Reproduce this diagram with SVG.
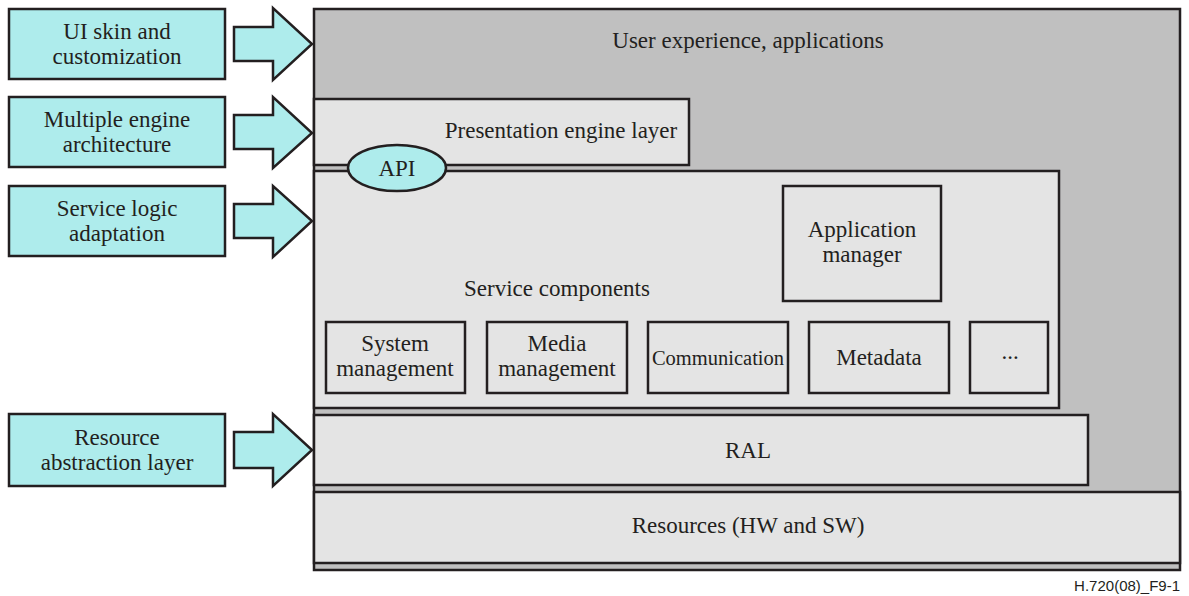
<svg xmlns="http://www.w3.org/2000/svg" width="1189" height="596" viewBox="0 0 1189 596">
<style>
.t{font-family:"Liberation Serif","Times New Roman",serif;font-size:23px;fill:#231f20;text-anchor:middle}
.side{fill:#aeecec;stroke:#231f20;stroke-width:2.5}
.layer{fill:#e4e4e4;stroke:#231f20;stroke-width:2.5}
.box{fill:#e4e4e4;stroke:#231f20;stroke-width:2.5}
.arrow{fill:#aeecec;stroke:#231f20;stroke-width:2.5;stroke-linejoin:miter}
</style>
<rect width="1189" height="596" fill="#ffffff"/>
<g id="platform">
<rect x="314" y="9" width="866" height="561" fill="#c0c0c0" stroke="#231f20" stroke-width="2.5"/>
<text class="t" x="748" y="48">User experience, applications</text>
</g>
<g id="presentation">
<rect class="layer" x="314" y="99" width="375" height="66"/>
<text class="t" x="561" y="138">Presentation engine layer</text>
</g>
<g id="service-components">
<rect class="layer" x="314" y="171" width="745" height="237"/>
<text class="t" x="557" y="296">Service components</text>
</g>
<g id="api">
<ellipse cx="397" cy="168" rx="49" ry="23" fill="#aeecec" stroke="#231f20" stroke-width="2.5"/>
<text class="t" x="397" y="176">API</text>
</g>
<g id="app-manager">
<rect class="box" x="783" y="186" width="158" height="115"/>
<text class="t" x="862" y="237">Application</text>
<text class="t" x="862" y="262">manager</text>
</g>
<g id="system-management">
<rect class="box" x="326" y="322" width="139" height="71"/>
<text class="t" x="395" y="351">System</text>
<text class="t" x="395" y="376">management</text>
</g>
<g id="media-management">
<rect class="box" x="487" y="322" width="140" height="71"/>
<text class="t" x="557" y="351">Media</text>
<text class="t" x="557" y="376">management</text>
</g>
<g id="communication">
<rect class="box" x="648" y="322" width="140" height="71"/>
<text class="t" x="718" y="365" style="font-size:20.5px">Communication</text>
</g>
<g id="metadata">
<rect class="box" x="809" y="322" width="140" height="71"/>
<text class="t" x="879" y="365">Metadata</text>
</g>
<g id="more">
<rect class="box" x="970" y="322" width="78" height="71"/>
<text class="t" x="1010" y="359">...</text>
</g>
<g id="ral">
<rect class="layer" x="314" y="415" width="774" height="70"/>
<text class="t" x="748" y="458">RAL</text>
</g>
<g id="resources">
<rect class="layer" x="314" y="492" width="866" height="71"/>
<text class="t" x="748" y="533">Resources (HW and SW)</text>
</g>
<g id="ui-skin">
<rect class="side" x="9" y="9" width="216" height="70"/>
<text class="t" x="117" y="39">UI skin and</text>
<text class="t" x="117" y="64">customization</text>
</g>
<g id="multiple-engine">
<rect class="side" x="9" y="97" width="216" height="70"/>
<text class="t" x="117" y="127">Multiple engine</text>
<text class="t" x="117" y="152">architecture</text>
</g>
<g id="service-logic">
<rect class="side" x="9" y="186" width="216" height="70"/>
<text class="t" x="117" y="216">Service logic</text>
<text class="t" x="117" y="241">adaptation</text>
</g>
<g id="resource-abstraction">
<rect class="side" x="9" y="414" width="216" height="72"/>
<text class="t" x="117" y="445">Resource</text>
<text class="t" x="117" y="470">abstraction layer</text>
</g>
<g id="connectors">
<polygon class="arrow" points="234,27 273,27 273,8 312,44 273,80 273,61 234,61"/>
<polygon class="arrow" points="234,115 273,115 273,97 312,133 273,168 273,149 234,149"/>
<polygon class="arrow" points="234,204 273,204 273,186 312,221 273,257 273,238 234,238"/>
<polygon class="arrow" points="234,432 273,432 273,414 312,450 273,486 273,468 234,468"/>
</g>
<text x="1180" y="591" style="font-family:'Liberation Sans',Arial,sans-serif;font-size:15px;fill:#231f20;text-anchor:end">H.720(08)_F9-1</text>
</svg>
